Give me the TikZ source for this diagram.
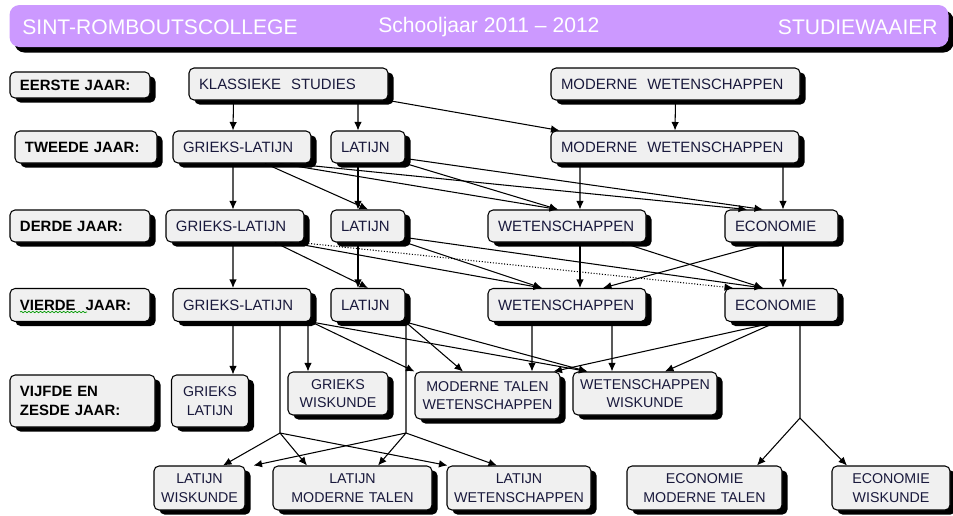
\documentclass[tikz,border=0pt]{standalone}
\usepackage{fontspec}
\setmainfont{Liberation Sans}
\usetikzlibrary{arrows.meta,shadows,decorations.pathmorphing}
\definecolor{paars}{RGB}{204,153,255}
\definecolor{grijs}{RGB}{240,240,240}
\definecolor{tekst}{RGB}{25,25,60}
\tikzset{
  kader/.style={draw,rounded corners=0.1cm,fill=grijs,line width=0.6pt,
    drop shadow={shadow xshift=0.11cm,shadow yshift=-0.09cm,opacity=1,fill=black},
    inner xsep=0.2cm,inner ysep=0pt,align=left,text=tekst,
    font=\fontsize{8.5pt}{10.5pt}\selectfont},
  midden/.style={kader,align=center,inner xsep=0.05cm,font=\fontsize{8.1pt}{10.7pt}\selectfont},
  jaar/.style={kader,text=black,font=\fontsize{8.5pt}{10.5pt}\selectfont\bfseries},
  maat/.style 2 args={text width=#1*0.02cm-0.4cm,minimum height=#2*0.02cm},
  maatc/.style 2 args={text width=#1*0.02cm-0.1cm,minimum height=#2*0.02cm},
  pijl/.style={-{Latex[length=1.7mm,width=1.5mm]},line width=0.6pt},
  lijn/.style={line width=0.6pt},
  kop/.style={anchor=west,inner sep=0pt,text=white,font=\fontsize{12pt}{14pt}\selectfont}
}
\begin{document}
\begin{tikzpicture}[x=0.02cm,y=-0.02cm]
  \useasboundingbox(0,0) rectangle (953,515);
  % kop
  \node[fill=paars,rounded corners=0.2cm,minimum width=939*0.02cm,minimum height=42*0.02cm,
    drop shadow={shadow xshift=0.1cm,shadow yshift=-0.11cm,opacity=1,fill=black}] (balk) at (479,26) {};
  \node[kop] (college) at (22,27) {SINT-ROMBOUTSCOLLEGE};
  \node[kop] (schooljaar) at (378,27) {Schooljaar 2011 – 2012};
  \node[kop,anchor=east] (waaier) at (938,27) {STUDIEWAAIER};
  % jaren
  \node[jaar,maat={140}{26}] (eerste) at (80,85) {EERSTE JAAR:};
  \node[jaar,maat={142}{32}] (tweede) at (86,147) {TWEEDE JAAR:};
  \node[jaar,maat={140}{32}] (derde) at (80,226) {DERDE JAAR:};
  \node[jaar,maat={140}{33}] (vierde) at (80,305) {VIERDE~~JAAR:};
  \node[jaar,maat={145}{52}] (vijfde) at (82.5,401) {VIJFDE EN\\ZESDE JAAR:};
  \draw[green!60!black,decorate,decoration={snake,amplitude=0.4pt,segment length=2.2pt}](20,312)--(87,312);
  % eerste jaar
  \node[kader,maat={199}{32}] (kl) at (288.5,84) {KLASSIEKE~~STUDIES};
  \node[kader,maat={249}{32}] (mw1) at (675.5,84) {MODERNE~~WETENSCHAPPEN};
  % tweede jaar
  \node[kader,maat={138}{32}] (gl2) at (242,147) {GRIEKS-LATIJN};
  \node[kader,maat={74}{32}] (la2) at (368,147) {LATIJN};
  \node[kader,maat={248}{32}] (mw2) at (675,147) {MODERNE~~WETENSCHAPPEN};
  % derde jaar
  \node[kader,maat={138}{32}] (gl3) at (235,226) {GRIEKS-LATIJN};
  \node[kader,maat={74}{32}] (la3) at (368,226) {LATIJN};
  \node[kader,maat={158}{32}] (we3) at (567,226) {WETENSCHAPPEN};
  \node[kader,maat={113}{32}] (ec3) at (781.5,226) {ECONOMIE};
  % vierde jaar
  \node[kader,maat={138}{33}] (gl4) at (242,305) {GRIEKS-LATIJN};
  \node[kader,maat={74}{33}] (la4) at (368,305) {LATIJN};
  \node[kader,maat={158}{33}] (we4) at (567,305) {WETENSCHAPPEN};
  \node[kader,maat={113}{33}] (ec4) at (781.5,305) {ECONOMIE};
  % vijfde en zesde jaar
  \node[midden,maatc={77}{52}] (gla) at (210,401) {GRIEKS\\LATIJN};
  \node[midden,maatc={100}{43}] (gwi) at (338,393.5) {GRIEKS\\WISKUNDE};
  \node[midden,maatc={145}{47}] (mtw) at (487.5,395.5) {MODERNE TALEN\\WETENSCHAPPEN};
  \node[midden,maatc={144}{43}] (ww) at (645,393.5) {WETENSCHAPPEN\\WISKUNDE};
  \node[midden,maatc={91}{44}] (lwi) at (199.5,488) {LATIJN\\WISKUNDE};
  \node[midden,maatc={159}{44}] (lmt) at (352.5,488) {LATIJN\\MODERNE TALEN};
  \node[midden,maatc={144}{44}] (lwe) at (519,488) {LATIJN\\WETENSCHAPPEN};
  \node[midden,maatc={155}{44}] (emt) at (704.5,488) {ECONOMIE\\MODERNE TALEN};
  \node[midden,maatc={118}{44}] (ewi) at (891,488) {ECONOMIE\\WISKUNDE};
  % jaar 1 -> 2
  \draw[pijl]([xshift=-1.1cm]kl.south)--([xshift=-0.18cm]gl2.north);
  \draw[pijl]([xshift=1.39cm]kl.south)--([xshift=-0.2cm]la2.north);
  \draw[pijl](kl.south east)--([xshift=0.18cm]mw2.north west);
  \draw[pijl](mw1.south)--(mw2.north);
  % jaar 2 -> 3
  \draw[pijl]([xshift=-0.18cm]gl2.south)--([xshift=-0.04cm]gl3.north);
  \draw[pijl]([xshift=0.46cm]gl2.south)--(la3.north);
  \draw[pijl]([xshift=0.76cm]gl2.south)--([xshift=-0.18cm]we3.north);
  \draw[pijl]([xshift=0.96cm]gl2.south)--([xshift=-0.69cm]ec3.north);
  \draw[pijl]([xshift=-0.2cm]la2.south)--([xshift=-0.2cm]la3.north);
  \draw[pijl](la2.south east)--([xshift=-0.18cm]we3.north);
  \draw[pijl]([yshift=0.1cm]la2.south east)--([xshift=-0.37cm]ec3.north);
  \draw[pijl]([xshift=-1.9cm]mw2.south)--([xshift=0.26cm]we3.north);
  \draw[pijl]([xshift=2.16cm]mw2.south)--([xshift=0.03cm]ec3.north);
  % jaar 3 -> 4
  \draw[pijl]([xshift=-0.04cm]gl3.south)--([xshift=-0.18cm]gl4.north);
  \draw[pijl]([xshift=0.8cm]gl3.south)--(la4.north);
  \draw[pijl]([xshift=1.1cm]gl3.south)--([xshift=-0.5cm]we4.north);
  \draw[pijl,densely dotted]([xshift=1.3cm]gl3.south)--([xshift=-0.97cm]ec4.north);
  \draw[pijl]([xshift=-0.2cm]la3.south)--([xshift=-0.2cm]la4.north);
  \draw[pijl](la3.south east)--([xshift=-0.5cm]we4.north);
  \draw[pijl]([yshift=0.1cm]la3.south east)--([xshift=-0.37cm]ec4.north);
  \draw[pijl]([xshift=0.26cm]we3.south)--([xshift=0.26cm]we4.north);
  \draw[pijl]([xshift=1.1cm]we3.south)--([xshift=-0.37cm]ec4.north);
  \draw[pijl]([xshift=-0.23cm]ec3.south)--([xshift=0.72cm]we4.north);
  \draw[pijl]([xshift=0.03cm]ec3.south)--([xshift=0.03cm]ec4.north);
  % jaar 4 -> 5
  \draw[pijl]([xshift=-0.18cm]gl4.south)--([xshift=0.46cm]gla.north);
  \draw[pijl]([xshift=1.32cm]gl4.south)--([xshift=-0.6cm]gwi.north);
  \draw[pijl](gl4.south east)--(mtw.north west);
  \draw[pijl](gl4.south east)--([xshift=0.3cm]ww.north west);
  \draw[pijl](la4.south east)--([xshift=-0.49cm]mtw.north);
  \draw[pijl](la4.south east)--([xshift=0.3cm]ww.north west);
  \draw[pijl]([xshift=-0.7cm]we4.south)--([xshift=0.89cm]mtw.north);
  \draw[pijl]([xshift=0.9cm]we4.south)--([xshift=-0.66cm]ww.north);
  \draw[pijl]([xshift=-0.1cm]ec4.south)--([xshift=-0.14cm]mtw.north east);
  \draw[pijl]([xshift=-0.1cm]ec4.south)--([xshift=0.4cm]ww.north);
  % vertakkingen
  \coordinate (splitsgl) at (280,433);
  \coordinate (splitsla) at (406,433);
  \coordinate (splitsec) at (800,418);
  \draw[lijn]([xshift=0.76cm]gl4.south)--(splitsgl);
  \draw[lijn]([xshift=0.76cm]la4.south)--(splitsla);
  \draw[lijn]([xshift=0.37cm]ec4.south)--(splitsec);
  \draw[pijl](splitsgl)--([xshift=0.47cm]lwi.north);
  \draw[pijl](splitsgl)--([xshift=-0.91cm]lmt.north);
  \draw[pijl](splitsgl)--([xshift=0.02cm]lwe.north west);
  \draw[pijl](splitsla)--([xshift=0.16cm]lwi.north east);
  \draw[pijl](splitsla)--([xshift=0.51cm]lmt.north);
  \draw[pijl](splitsla)--([xshift=-0.44cm]lwe.north);
  \draw[pijl](splitsec)--([xshift=1.05cm]emt.north);
  \draw[pijl](splitsec)--([xshift=-0.88cm]ewi.north);
\end{tikzpicture}
\end{document}
